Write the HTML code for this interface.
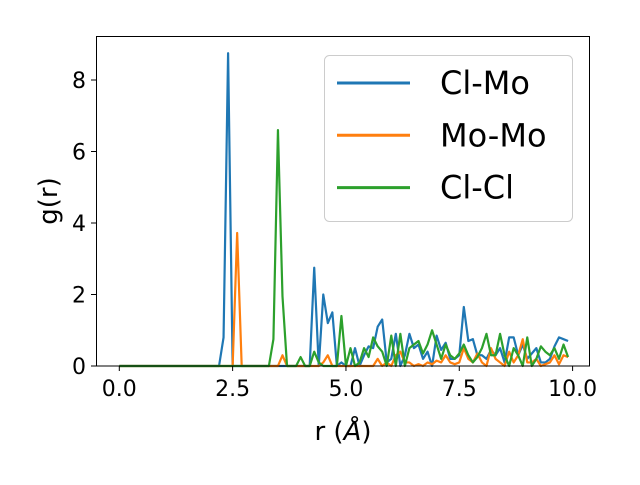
<!DOCTYPE html>
<html><head><meta charset="utf-8"><style>
body{margin:0;background:#fff}
svg{font-family:"DejaVu Sans","Liberation Sans",sans-serif}
</style></head><body>
<svg id="chart" width="640" height="480" viewBox="0 0 640 480">
<rect width="640" height="480" fill="#fff"/>
<g id="plot"></g>
<g id="axes"></g>
</svg>
<script>
const rValues = Array.from({length:100},(_,i)=>+(i*0.1).toFixed(1));
const clMo = [0,0,0,0,0,0,0,0,0,0, 0,0,0,0,0,0,0,0,0,0, 0,0,0,0.8,8.75,0,0,0,0,0, 0,0,0,0,0,0,0,0,0,0, 0,0,0,2.75,0,2.0,1.2,1.5,0,0.1,
 0,0,0.5,0,0.3,0.55,0.5,1.1,1.3,0.1, 0.2,0.9,0,0.3,0.9,0.5,0.6,0.2,0.4,0, 0.85,0.45,0.65,0.2,0.2,0.3,1.65,0.7,0.75,0.3, 0.3,0.2,0.45,0.3,0.5,0.1,0.8,0.8,0.3,0.6, 0.2,0.35,0.5,0.1,0.1,0.2,0.55,0.8,0.75,0.7];
const moMo = [0,0,0,0,0,0,0,0,0,0, 0,0,0,0,0,0,0,0,0,0, 0,0,0,0,0,0,3.72,0,0,0, 0,0,0,0,0,0,0.3,0,0,0, 0,0,0,0,0,0.1,0.3,0,0,0,
 0,0,0,0,0,0,0,0.2,0,0.1, 0,0.3,0.4,0.1,0.1,0,0.05,0,0.1,0.05, 0.15,0.1,0.3,0.1,0.05,0.1,0.5,0.2,0.1,0.35, 0.1,0,0.5,0.2,0.1,0,0.4,0.1,0.3,0.75, 0.1,0.1,0.2,0,0.05,0.1,0.3,0.05,0.3,0.25];
const clCl = [0,0,0,0,0,0,0,0,0,0, 0,0,0,0,0,0,0,0,0,0, 0,0,0,0,0,0,0,0,0,0, 0,0,0,0,0.75,6.6,1.95,0,0,0, 0.25,0,0,0.4,0.1,0,0,0,0,1.4,
 0,0.5,0,0.1,0.5,0.25,0.8,0.55,0.4,0, 0.85,0,0.9,0,0.5,0.6,0.7,0.35,0.6,1.0, 0.6,0.2,0.6,0.3,0.2,0.35,0.6,0.3,0.1,0.25, 0.5,0.9,0.3,0.3,0.9,0.3,0,0.5,0.3,0, 0.8,0,0.2,0.55,0.4,0.3,0.5,0.2,0.6,0.25];
const xTicks = [0,2.5,5,7.5,10];
const xTickLabels = ["0.0","2.5","5.0","7.5","10.0"];
const yTicks = [0,2,4,6,8];
const yTickLabels = ["0","2","4","6","8"];
const seriesNames = ["Cl-Mo","Mo-Mo","Cl-Cl"];
const colors = ["#1f77b4","#ff7f0e","#2ca02c"];

const X = r => 119.3 + r*45.33;
const Y = v => 366 - v*35.75;
const NS="http://www.w3.org/2000/svg";
const plot=document.getElementById('plot'), axes=document.getElementById('axes');
function mk(tag,attrs,parent){const e=document.createElementNS(NS,tag);for(const k in attrs)e.setAttribute(k,attrs[k]);parent.appendChild(e);return e;}

const keys=["cl-mo","mo-mo","cl-cl"];
[clMo,moMo,clCl].forEach((s,i)=>{
  const p=mk('polyline',{points:s.map((v,j)=>X(rValues[j]).toFixed(2)+','+Y(v).toFixed(2)).join(' '),fill:'none',stroke:colors[i],'stroke-width':2.2,'stroke-linejoin':'round'},plot);
  
  
});

const frame=mk('rect',{x:96.5,y:36.5,width:493,height:329.5,fill:'none',stroke:'#000','stroke-width':1},axes);



xTicks.forEach((t,i)=>{
  const l=mk('line',{x1:X(t),x2:X(t),y1:366,y2:371,stroke:'#000'},axes);
  
  
  const tx=mk('text',{x:X(t),y:396,'text-anchor':'middle','font-size':22},axes);
  tx.textContent=xTickLabels[i];
  
  
});
yTicks.forEach((t,i)=>{
  const l=mk('line',{x1:91,x2:96,y1:Y(t),y2:Y(t),stroke:'#000'},axes);
  
  
  const tx=mk('text',{x:86,y:Y(t)+8,'text-anchor':'end','font-size':22},axes);
  tx.textContent=yTickLabels[i];
  
  
});
const xt=mk('text',{x:343,y:440,'text-anchor':'middle','font-size':26},axes);
xt.innerHTML='r (<tspan font-style="italic">Å</tspan>)';


const yt=mk('text',{x:0,y:0,'text-anchor':'middle','font-size':26,transform:'translate(57,201) rotate(-90)'},axes);
yt.textContent='g(r)';



const lg=mk('g',{},axes);


mk('rect',{x:324.5,y:55.5,width:248,height:166,rx:5,fill:'#fff','fill-opacity':0.8,stroke:'#ccc'},lg);
seriesNames.forEach((n,i)=>{
  const y=83+i*52.3;
  const l=mk('line',{x1:337,x2:410,y1:y,y2:y,stroke:colors[i],'stroke-width':3},lg);
  
  
  const t=mk('text',{x:440,y:y+11,'font-size':32},lg);
  t.textContent=n;
  
  
});
</script>
</body></html>
